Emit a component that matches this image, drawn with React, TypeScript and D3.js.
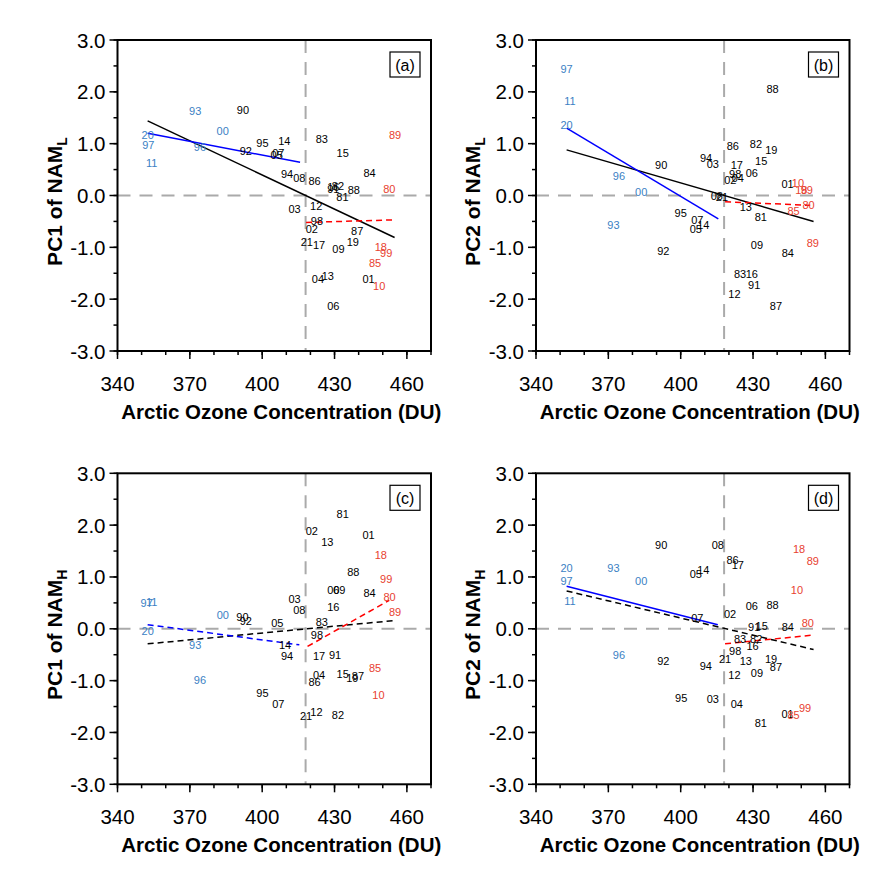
import React from "react";
import * as d3 from "d3";

type P = [string, number, number];
// Panel (a)
const aBlue: P[] = [["93",372.2,1.63],["00",383.6,1.25],["20",352.5,1.17],["97",352.8,0.98],["11",354.2,0.62],["96",374.2,0.94]];
const aBlack: P[] = [["90",392,1.64],["95",400.1,1.01],["14",409.2,1.05],["92",393.2,0.85],["07",406.7,0.82],["05",406,0.78],["83",424.7,1.09],["15",433.4,0.82],["84",444.5,0.43],["94",410.3,0.42],["08",415.4,0.33],["86",421.7,0.28],["82",431.4,0.19],["16",429.5,0.16],["91",429.5,0.12],["88",438,0.11],["81",433.3,-0.03],["03",413.4,-0.26],["12",422.4,-0.21],["98",422.7,-0.49],["02",420.6,-0.64],["87",439.4,-0.68],["21",418.5,-0.89],["17",423.6,-0.96],["09",431.6,-1.03],["19",437.6,-0.89],["04",423.1,-1.61],["13",427.2,-1.55],["01",444.1,-1.61],["06",429.5,-2.14]];
const aRed: P[] = [["89",455.1,1.16],["80",452.7,0.13],["18",449.2,-1.0],["99",451.4,-1.1],["85",446.8,-1.3],["10",448.5,-1.75]];
// Panel (b)
const bBlue: P[] = [["97",352.7,2.45],["11",354.1,1.82],["20",352.7,1.36],["96",374.4,0.38],["00",383.6,0.06],["93",372.1,-0.56]];
const bBlack: P[] = [["88",438.1,2.06],["86",421.6,0.96],["82",431.2,0.99],["19",437.6,0.88],["15",433.4,0.67],["94",410.5,0.72],["03",413.3,0.6],["90",391.9,0.59],["17",423.3,0.59],["06",429.5,0.43],["98",422.6,0.41],["04",423.7,0.33],["02",420.6,0.29],["01",444.3,0.22],["08",415,0.0],["21",417.1,-0.02],["13",427,-0.22],["81",433.2,-0.42],["95",400,-0.34],["07",406.9,-0.47],["14",409.4,-0.56],["05",406.3,-0.64],["92",392.8,-1.08],["09",431.6,-0.95],["84",444.4,-1.11],["83",424.6,-1.52],["16",429.5,-1.52],["91",430.5,-1.72],["12",422.3,-1.9],["87",439.5,-2.14]];
const bRed: P[] = [["10",448.6,0.24],["18",450,0.11],["99",452.3,0.11],["80",453,-0.18],["85",446.8,-0.29],["89",454.8,-0.91]];
// Panel (c)
const cBlue: P[] = [["97",352.1,0.5],["11",354.2,0.51],["20",352.5,-0.05],["00",383.7,0.26],["93",372.2,-0.32],["96",374.2,-0.98]];
const cBlack: P[] = [["81",433.4,2.22],["02",420.6,1.89],["13",427,1.68],["01",444.1,1.81],["88",437.8,1.09],["06",429.5,0.75],["09",432,0.75],["84",444.5,0.7],["03",413.4,0.58],["08",415.4,0.37],["16",429.5,0.42],["90",391.8,0.23],["92",393.2,0.16],["05",406.3,0.12],["83",424.7,0.13],["98",422.7,-0.12],["14",409.5,-0.31],["94",410.3,-0.53],["17",423.6,-0.53],["91",430.2,-0.51],["04",423.6,-0.89],["86",421.7,-1.03],["15",433.4,-0.87],["19",437.4,-0.95],["87",439.7,-0.92],["95",400.1,-1.24],["07",406.7,-1.45],["21",418.2,-1.68],["12",422.5,-1.61],["82",431.4,-1.66]];
const cRed: P[] = [["18",449.2,1.43],["99",451.4,0.96],["80",452.8,0.62],["89",455.1,0.32],["85",446.8,-0.76],["10",448.2,-1.27]];
// Panel (d)
const dBlue: P[] = [["20",352.7,1.18],["97",352.7,0.93],["11",354.1,0.53],["93",372.1,1.18],["00",383.6,0.93],["96",374.4,-0.51]];
const dBlack: P[] = [["90",391.9,1.61],["08",415.4,1.62],["86",421.5,1.33],["17",423.7,1.23],["14",409.4,1.14],["05",406.3,1.05],["06",429.5,0.44],["88",438.1,0.46],["02",420.5,0.29],["07",406.9,0.21],["91",430.5,0.03],["15",433.6,0.06],["84",444.4,0.03],["83",424.6,-0.2],["82",431.3,-0.2],["16",429.8,-0.34],["98",422.6,-0.42],["92",392.8,-0.62],["21",418.4,-0.58],["13",427,-0.62],["94",410.4,-0.71],["19",437.5,-0.58],["87",439.5,-0.73],["12",422.3,-0.9],["09",431.6,-0.85],["95",400.2,-1.34],["03",413.3,-1.35],["04",423.3,-1.45],["01",444.3,-1.64],["81",433.2,-1.82]];
const dRed: P[] = [["18",449.1,1.54],["89",454.8,1.31],["10",448.2,0.74],["80",452.7,0.12],["99",451.6,-1.53],["85",446.8,-1.66]];

type L = { pts: [number, number][]; color: string; dash: boolean };
const aLines: L[] = [
  { pts: [[352.5,1.44],[454.9,-0.81]], color: "#000", dash: false },
  { pts: [[352.5,1.2],[415.7,0.64]], color: "#0000ff", dash: false },
  { pts: [[418.2,-0.52],[455.1,-0.47]], color: "#ff0000", dash: true },
];
const bLines: L[] = [
  { pts: [[352.7,0.88],[455.1,-0.5]], color: "#000", dash: false },
  { pts: [[352.7,1.3],[415.6,-0.45]], color: "#0000ff", dash: false },
  { pts: [[418.4,-0.12],[453.7,-0.19]], color: "#ff0000", dash: true },
];
const cLines: L[] = [
  { pts: [[352.5,-0.29],[454.9,0.16]], color: "#000", dash: true },
  { pts: [[352.5,0.08],[415.4,-0.31]], color: "#0000ff", dash: true },
  { pts: [[418.8,-0.34],[452.7,0.55]], color: "#ff0000", dash: true },
];
const dLines: L[] = [
  { pts: [[352.7,0.73],[455.1,-0.4]], color: "#000", dash: true },
  { pts: [[352.7,0.82],[415.4,0.08]], color: "#0000ff", dash: false },
  { pts: [[418.4,-0.29],[455.1,-0.12]], color: "#ff0000", dash: true },
];

const xTicks = [340, 370, 400, 430, 460];
const xMinor = d3.range(340, 471, 10);
const yTicks = [-3, -2, -1, 0, 1, 2, 3];
const yMinor = d3.range(-3, 3.01, 0.5);
const OZ_REF = 418;

const BLUE_T = "#3b7fc4";
const RED_T = "#e8412f";
const FONT = "Liberation Sans, Arial, sans-serif";

function Panel({ left, top, tag, pc, sub, blue, black, red, lines }: any) {
  const W = 313.5, H = 311;
  const x = d3.scaleLinear().domain([340, 470]).range([left, left + W]);
  const y = d3.scaleLinear().domain([-3, 3]).range([top + H, top]);
  const line = d3.line<[number, number]>().x(d => x(d[0])).y(d => y(d[1]));
  const lab = (arr: P[], c: string) => arr.map((p, i) => (
    <text key={c + i} x={x(p[1])} y={y(p[2])} fill={c} fontSize={11} textAnchor="middle" dominantBaseline="central" fontFamily={FONT}>{p[0]}</text>
  ));
  return (
    <g>
      <line x1={left} x2={left + W} y1={y(0)} y2={y(0)} stroke="#aaa" strokeWidth={2} strokeDasharray="13,9" />
      <line x1={x(OZ_REF)} x2={x(OZ_REF)} y1={top} y2={top + H} stroke="#aaa" strokeWidth={2} strokeDasharray="13,9" />
      {lines.map((l: L, i: number) => (
        <path key={i} d={line(l.pts) || ""} stroke={l.color} strokeWidth={1.5} fill="none" strokeDasharray={l.dash ? "6,4" : undefined} />
      ))}
      {lab(blue, BLUE_T)}
      {lab(black, "#000")}
      {lab(red, RED_T)}
      <rect x={left} y={top} width={W} height={H} fill="none" stroke="#000" strokeWidth={2} />
      {xMinor.map(v => <line key={"xm" + v} x1={x(v)} x2={x(v)} y1={top + H} y2={top + H + 4} stroke="#000" strokeWidth={1.5} />)}
      {xTicks.map(v => (
        <g key={"x" + v}>
          <line x1={x(v)} x2={x(v)} y1={top + H} y2={top + H + 8} stroke="#000" strokeWidth={1.5} />
          <text x={x(v)} y={top + H + 40} textAnchor="middle" fontSize={20.5} fontFamily={FONT}>{v}</text>
        </g>
      ))}
      {yMinor.map(v => <line key={"ym" + v} x1={left - 4} x2={left} y1={y(v)} y2={y(v)} stroke="#000" strokeWidth={1.5} />)}
      {yTicks.map(v => (
        <g key={"y" + v}>
          <line x1={left - 8} x2={left} y1={y(v)} y2={y(v)} stroke="#000" strokeWidth={1.5} />
          <text x={left - 12} y={y(v)} textAnchor="end" dominantBaseline="central" fontSize={20.5} fontFamily={FONT}>{v.toFixed(1)}</text>
        </g>
      ))}
      <rect x={left + W - 41} y={top + 12} width={30} height={25} fill="#fff" stroke="#000" strokeWidth={1.2} />
      <text x={left + W - 26} y={top + 25} textAnchor="middle" dominantBaseline="central" fontSize={16} fontFamily={FONT}>{tag}</text>
      <text x={left + W / 2 + 7} y={top + H + 68} textAnchor="middle" fontSize={20.5} fontWeight="bold" fontFamily={FONT}>Arctic Ozone Concentration (DU)</text>
      <text transform={`translate(${left - 56},${top + H / 2 + 6}) rotate(-90)`} textAnchor="middle" fontSize={21} fontWeight="bold" fontFamily={FONT}>
        {pc} of NAM<tspan fontSize={14} dy={5}>{sub}</tspan>
      </text>
    </g>
  );
}

export default function App() {
  return (
    <svg width={877} height={871} style={{ display: "block", background: "#fff" }}>
      <g transform="translate(-8,-8)">
        <Panel left={117.5} top={40} tag="(a)" pc="PC1" sub="L" blue={aBlue} black={aBlack} red={aRed} lines={aLines} />
        <Panel left={536} top={40} tag="(b)" pc="PC2" sub="L" blue={bBlue} black={bBlack} red={bRed} lines={bLines} />
        <Panel left={117.5} top={473.3} tag="(c)" pc="PC1" sub="H" blue={cBlue} black={cBlack} red={cRed} lines={cLines} />
        <Panel left={536} top={473.3} tag="(d)" pc="PC2" sub="H" blue={dBlue} black={dBlack} red={dRed} lines={dLines} />
      </g>
    </svg>
  );
}
